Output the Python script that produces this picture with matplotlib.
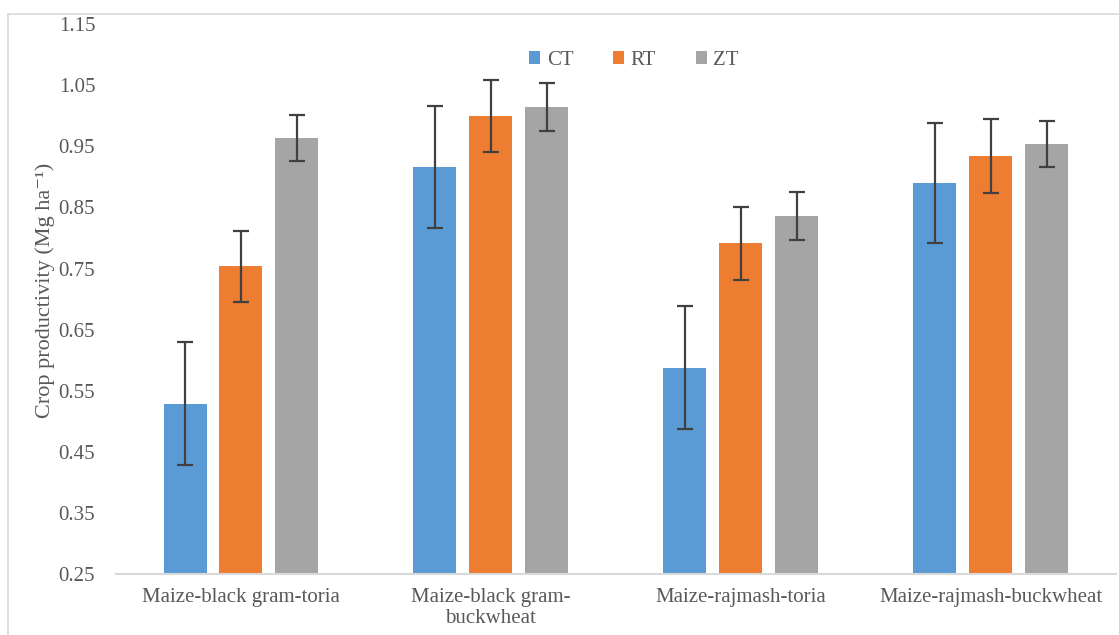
import matplotlib
matplotlib.use("Agg")
import matplotlib.pyplot as plt
import numpy as np
from matplotlib.patches import Rectangle

categories = ["Maize-black gram-toria", "Maize-black gram-\nbuckwheat",
              "Maize-rajmash-toria", "Maize-rajmash-buckwheat"]
series = ["CT", "RT", "ZT"]
ct = [0.529, 0.916, 0.588, 0.890]
rt = [0.754, 1.000, 0.791, 0.934]
zt = [0.964, 1.014, 0.836, 0.954]
ct_err = [0.100, 0.100, 0.100, 0.099]
rt_err = [0.058, 0.059, 0.059, 0.060]
zt_err = [0.038, 0.039, 0.039, 0.038]

colors = ["#5b9bd5", "#ed7d31", "#a5a5a5"]
text_color = "#595959"

plt.rcParams["font.family"] = ["Liberation Serif", "DejaVu Serif"]

fig = plt.figure(figsize=(11.19, 6.35), dpi=100)
ax = fig.add_axes([0.1037, 0.096, 0.8933, 0.866])

fig.patches.append(Rectangle((8 / 1119, -0.01), 1.1, 1 - 14 / 635 + 0.01,
                             transform=fig.transFigure, fill=False,
                             edgecolor="#d9d9d9", linewidth=1.2))

x = np.arange(len(categories))
width = 0.172
step = 0.224
for i, (vals, errs) in enumerate([(ct, ct_err), (rt, rt_err), (zt, zt_err)]):
    ax.bar(x + (i - 1) * step, vals, width, color=colors[i], label=series[i],
           yerr=errs, error_kw=dict(ecolor="#404040", elinewidth=1.6,
                                    capsize=5.8, capthick=1.6), zorder=2)

ax.set_xlim(-0.5, 3.5)
ax.set_ylim(0.25, 1.15)
ax.set_yticks(np.arange(0.25, 1.151, 0.1))
ax.set_yticklabels([f"{v:.2f}" for v in np.arange(0.25, 1.151, 0.1)])
ax.set_xticks(x)
ax.set_xticklabels(categories, linespacing=1.15)
ax.tick_params(axis="both", length=0, colors=text_color)
ax.tick_params(axis="y", pad=15, labelsize=15)
ax.tick_params(axis="x", pad=10, labelsize=15)

for side in ["top", "right", "left"]:
    ax.spines[side].set_visible(False)
ax.spines["bottom"].set_color("#d9d9d9")
ax.spines["bottom"].set_linewidth(1.5)

ax.set_ylabel("Crop productivity (Mg ha\u207b\u00b9)", color=text_color, fontsize=16)
ax.yaxis.set_label_coords(-0.061, 0.516)

leg = ax.legend(loc="upper center", bbox_to_anchor=(0.518, 0.985), ncol=3,
                frameon=False, fontsize=15, handlelength=0.55, handleheight=0.55,
                columnspacing=1.9, handletextpad=0.3)
for t in leg.get_texts():
    t.set_color(text_color)

fig.savefig("out.png", dpi=100)
